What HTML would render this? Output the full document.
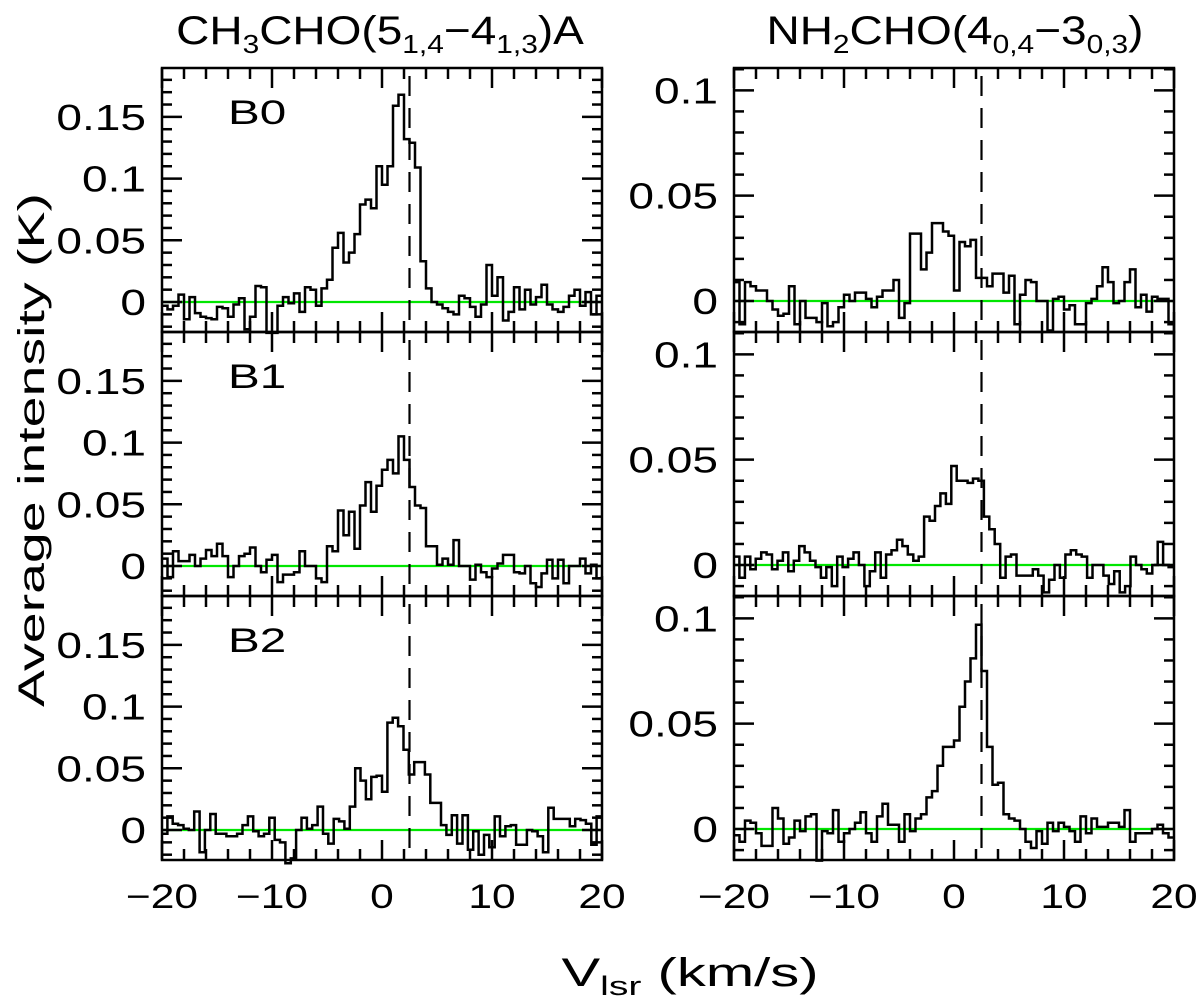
<!DOCTYPE html>
<html><head><meta charset="utf-8"><style>
html,body{margin:0;padding:0;background:#fff}
svg{display:block;font-family:"Liberation Sans","DejaVu Sans",sans-serif}
</style></head><body>
<svg id="chart" width="1200" height="1007" viewBox="0 0 1200 1007" xmlns="http://www.w3.org/2000/svg">
<text transform="translate(380,44) scale(1.15,1)" font-size="40" text-anchor="middle">CH<tspan font-size="26" dy="9">3</tspan><tspan dy="-9">CHO(5</tspan><tspan font-size="26" dy="9">1,4</tspan><tspan dy="-9">−4</tspan><tspan font-size="26" dy="9">1,3</tspan><tspan dy="-9">)A</tspan></text>
<text transform="translate(955,44) scale(1.15,1)" font-size="40" text-anchor="middle">NH<tspan font-size="26" dy="9">2</tspan><tspan dy="-9">CHO(4</tspan><tspan font-size="26" dy="9">0,4</tspan><tspan dy="-9">−3</tspan><tspan font-size="26" dy="9">0,3</tspan><tspan dy="-9">)</tspan></text>
<text transform="translate(44,450) rotate(-90) scale(1.5,1)" font-size="37" text-anchor="middle">Average intensity (K)</text>
<text transform="translate(690,986) scale(1.45,1)" font-size="40" text-anchor="middle">V<tspan font-size="27" dy="9">lsr</tspan><tspan dy="-9"> (km/s)</tspan></text>
<g id="plots"></g>
</svg>
<script>
const xTicksMajor = [-20,-10,0,10,20];
const vlsr = 2.5;
const leftYTicks = [0,0.05,0.1,0.15];
const leftYTickLabels = ["0","0.05","0.1","0.15"];
const rightYTicks = [0,0.05,0.1];
const rightYTickLabels = ["0","0.05","0.1"];
const panelLabels = ["B0","B1","B2"];
const ch3choB0 = [-3,-6,-3,6,-14,4,-9,-12,-13,-14,-4,-5,-12,-2,3,-22,-12,13,12,-25,-25,-3,4,-1,7,-8,12,10,-3,11,18,44,56,32,40,55,79,83,76,110,95,110,159,168,132,129,109,33,11,0,-2,-5,-8,-10,5,3,-4,-12,-2,30,5,20,-15,-8,12,-6,10,-2,4,14,-2,-6,-8,-4,5,10,-3,8,-10,5];
const ch3choB1 = [6,-9,12,4,4,9,0,6,13,8,18,8,-9,0,8,10,15,0,-5,5,9,-13,-7,-7,-5,12,0,0,-10,-13,16,12,45,25,44,14,49,68,44,65,78,86,75,105,86,64,49,47,16,16,1,6,1,21,0,0,-11,1,-5,-9,-2,2,9,9,-5,-6,0,-14,-17,-6,5,-10,5,-14,0,0,6,-6,1,-10];
const ch3choB2 = [-3,11,5,4,1,0,15,-18,0,13,-3,-3,-5,-5,-3,4,11,-1,-5,-3,10,-8,-10,-27,-23,0,10,1,4,19,-3,-11,9,7,1,19,50,40,25,43,44,31,87,91,84,65,45,55,55,45,22,22,4,-4,12,-11,12,-16,-1,-20,-4,-14,11,-5,3,4,-12,-12,0,-1,-5,-18,18,9,9,9,3,9,8,5,-12,11];
const nh2choB0 = [9,-11,9,7,5,5,0,-4,-7,-6,7,-11,0,-8,-8,-10,-1,-12,-10,-3,3,0,4,4,1,-3,2,5,5,10,-8,-1,32,32,15,23,37,37,33,31,5,28,26,29,11,11,7,13,13,4,12,-11,3,10,9,0,0,-14,1,2,-4,-2,-11,-11,-1,1,7,16,9,-1,0,9,15,-3,3,-5,2,1,1,-11];
const nh2choB1 = [4,-6,4,-2,3,6,5,-2,2,6,-3,2,9,6,2,-1,-6,-1,-10,4,-1,3,6,0,-10,-3,6,-6,5,7,12,9,5,2,4,23,21,28,34,29,47,40,40,39,41,40,23,17,10,-6,4,5,-5,-5,-5,-2,-5,-13,-7,0,-6,5,7,5,4,-6,0,0,-5,-9,-3,-13,-10,4,0,-2,-4,0,11,0,-1];
const nh2choB2 = [-3,-6,4,3,-2,-8,-8,10,5,-7,-4,4,-1,6,7,-15,-1,-2,9,-6,-2,0,3,8,-2,-6,6,12,2,2,-6,7,-1,5,7,15,18,30,39,39,42,58,70,81,97,75,39,21,22,7,5,4,0,-6,-9,-1,-7,3,-1,3,1,-1,-6,6,-2,5,1,1,3,3,1,9,-6,-2,-2,-2,0,2,-2,-4];

const NS="http://www.w3.org/2000/svg";
const g=document.getElementById('plots');
function el(t,a,p){const e=document.createElementNS(NS,t);for(const k in a)e.setAttribute(k,a[k]);(p||g).appendChild(e);return e;}
const cols=[{x0:162,x1:602,ymin:-0.0243,ymax:0.1896,ticks:leftYTicks,labels:leftYTickLabels,series:[ch3choB0,ch3choB1,ch3choB2],name:'ch3cho'},
            {x0:734,x1:1174,ymin:-0.0147,ymax:0.1106,ticks:rightYTicks,labels:rightYTickLabels,series:[nh2choB0,nh2choB1,nh2choB2],name:'nh2cho'}];
const rowTops=[68,332,596], rowH=264;
cols.forEach((c,ci)=>{
  const xs=v=>c.x0+(v+20)/40*(c.x1-c.x0);
  rowTops.forEach((top,ri)=>{
    const bot=top+rowH;
    const ys=val=>bot-(val-c.ymin)/(c.ymax-c.ymin)*rowH;
    const pg=el('g',{});
    
    
    const z=el('line',{x1:c.x0,x2:c.x1,y1:ys(0),y2:ys(0),stroke:'#00e600','stroke-width':2.2},pg);
    
    
    const data=c.series[ri], n=data.length, dv=40/n;
    let d='';
    data.forEach((mk,i)=>{const v0=-20+i*dv,v1=v0+dv,y=ys(mk/1000);d+=(i===0?'M':'L')+xs(v0).toFixed(1)+','+y.toFixed(1)+'L'+xs(v1).toFixed(1)+','+y.toFixed(1);});
    const sp=el('path',{d:d,fill:'none',stroke:'#000','stroke-width':2.5,'stroke-linejoin':'miter'},pg);
    
    
    const dl=el('line',{x1:xs(vlsr),x2:xs(vlsr),y1:top+8,y2:bot,stroke:'#000','stroke-width':2.2,'stroke-dasharray':'20,12'},pg);
    
    
    const fr=el('rect',{x:c.x0,y:top,width:c.x1-c.x0,height:rowH,fill:'none',stroke:'#000','stroke-width':2.5},pg);
    
    
    for(let v=-20;v<=20;v+=2){
      const L=(v%10===0)?20:11, x=xs(v);
      el('line',{x1:x,x2:x,y1:top,y2:top+L,stroke:'#000','stroke-width':2.5},pg);
      el('line',{x1:x,x2:x,y1:bot,y2:bot-L,stroke:'#000','stroke-width':2.5},pg);
    }
    for(let k=Math.ceil(c.ymin*100);k<=Math.floor(c.ymax*100);k++){
      const val=k/100,L=(k%5===0)?20:10,y=ys(val);
      el('line',{x1:c.x0,x2:c.x0+L,y1:y,y2:y,stroke:'#000','stroke-width':2.5},pg);
      el('line',{x1:c.x1,x2:c.x1-L,y1:y,y2:y,stroke:'#000','stroke-width':2.5},pg);
    }
    c.ticks.forEach((t,i)=>{
      const tl=el('text',{transform:'translate('+(c.x0-16)+','+(ys(t)+13)+') scale(1.28,1)','font-size':36,'text-anchor':'end'},pg);
      tl.textContent=c.labels[i];
      
      
    });
    if(ci===0){
      const pl=el('text',{transform:'translate(228,'+(top+56)+') scale(1.4,1)','font-size':34},pg);
      pl.textContent=panelLabels[ri];
      
      
    }
    if(ri===2){
      xTicksMajor.forEach(v=>{
        const xl=el('text',{transform:'translate('+xs(v)+','+(bot+48)+') scale(1.25,1)','font-size':34,'text-anchor':'middle'},pg);
        xl.textContent=(v<0?'−':'')+Math.abs(v);
        
        
      });
    }
  });
});
</script>
</body></html>
